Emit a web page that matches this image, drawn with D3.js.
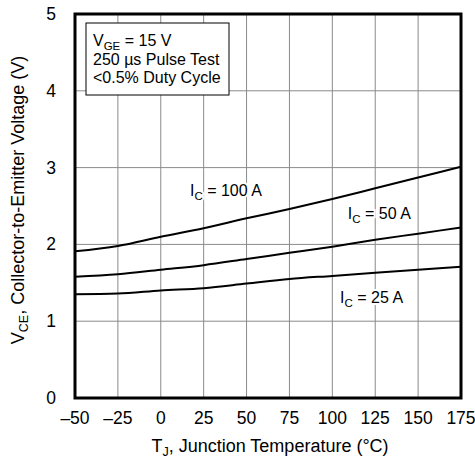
<!DOCTYPE html>
<html>
<head>
<meta charset="utf-8">
<style>
  body { margin: 0; background: #fff; }
  svg text { font-family: "Liberation Sans", Arial, sans-serif; fill: #000; }
</style>
</head>
<body>
<svg id="chart"></svg>
<script src="https://cdn.jsdelivr.net/npm/d3@7/dist/d3.min.js"></script>
<script>
// temperatures (°C) where values were read
const temps = [-50, -25, 0, 25, 50, 75, 100, 125, 150, 175];
const ic100 = [1.91, 1.98, 2.10, 2.21, 2.34, 2.46, 2.59, 2.73, 2.87, 3.01];
const ic50 = [1.58, 1.61, 1.67, 1.73, 1.81, 1.89, 1.97, 2.06, 2.14, 2.22];
const ic25 = [1.35, 1.36, 1.40, 1.43, 1.49, 1.55, 1.59, 1.63, 1.67, 1.71];
const xTicks = [-50, -25, 0, 25, 50, 75, 100, 125, 150, 175];
const yTicks = [0, 1, 2, 3, 4, 5];

const W = 475, H = 463;
const m = { left: 75, right: 14, top: 14, bottom: 65 };

let svg = d3.select("#chart").attr("width", W).attr("height", H);

let x = d3.scaleLinear().domain([-50, 175]).range([m.left, W - m.right]);
let y = d3.scaleLinear().domain([0, 5]).range([H - m.bottom, m.top]);

// grid
let grid = svg.append("g").attr("stroke", "#8a8a8a").attr("stroke-width", 1);
grid.selectAll("line.v").data(xTicks).enter().append("line")
    .attr("x1", d => x(d)).attr("x2", d => x(d))
    .attr("y1", y(0)).attr("y2", y(5));
grid.selectAll("line.h").data(yTicks).enter().append("line")
    .attr("x1", x(-50)).attr("x2", x(175))
    .attr("y1", d => y(d)).attr("y2", d => y(d));

// curves
let line = d3.line().x((d, i) => x(temps[i])).y(d => y(d)).curve(d3.curveMonotoneX);
[ic100, ic50, ic25].forEach(s => {
    svg.append("path").attr("d", line(s))
        .attr("fill", "none").attr("stroke", "#000").attr("stroke-width", 2);
});

// curve labels
function icLabel(t, v, amps) {
    let tx = svg.append("text")
        .attr("x", x(t)).attr("y", y(v))
        .attr("font-size", 16)
        .attr("stroke", "#fff").attr("stroke-width", 4)
        .attr("paint-order", "stroke");
    tx.append("tspan").text("I");
    tx.append("tspan").attr("font-size", 11.5).attr("dy", 4).text("C");
    tx.append("tspan").attr("dy", -4).text(" = " + amps + " A");
}
icLabel(17, 2.63, 100);
icLabel(109, 2.33, 50);
icLabel(104.5, 1.24, 25);

// axes labels
svg.append("g").selectAll("text").data(xTicks).enter().append("text")
    .attr("x", d => x(d)).attr("y", 424)
    .attr("text-anchor", "middle").attr("font-size", 17.5)
    .text(d => d < 0 ? "\u2013" + Math.abs(d) : d);
svg.append("g").selectAll("text").data(yTicks).enter().append("text")
    .attr("x", 56).attr("y", d => y(d) + 6)
    .attr("text-anchor", "end").attr("font-size", 17.5)
    .text(d => d);

let xt = svg.append("text").attr("x", x(62.5) + 2).attr("y", 452)
    .attr("text-anchor", "middle").attr("font-size", 18);
xt.append("tspan").text("T");
xt.append("tspan").attr("font-size", 12.5).attr("dy", 4).text("J");
xt.append("tspan").attr("dy", -4).text(", Junction Temperature (\u00b0C)");

let yt = svg.append("text")
    .attr("transform", "translate(24," + ((y(0) + y(5)) / 2 - 6) + ") rotate(-90)")
    .attr("text-anchor", "middle").attr("font-size", 18);
yt.append("tspan").text("V");
yt.append("tspan").attr("font-size", 12.5).attr("dy", 4).text("CE");
yt.append("tspan").attr("dy", -4).text(", Collector-to-Emitter Voltage (V)");

// conditions box
let box = svg.append("g");
box.append("rect").attr("x", 86).attr("y", 23).attr("width", 143).attr("height", 72)
    .attr("fill", "#fff").attr("stroke", "#000").attr("stroke-width", 1);
let l1 = box.append("text").attr("x", 93).attr("y", 46).attr("font-size", 16);
l1.append("tspan").text("V");
l1.append("tspan").attr("font-size", 11.5).attr("dy", 4).text("GE");
l1.append("tspan").attr("dy", -4).text(" = 15 V");
box.append("text").attr("x", 93).attr("y", 65).attr("font-size", 16).text("250 \u00b5s Pulse Test");
box.append("text").attr("x", 93).attr("y", 83).attr("font-size", 16).text("<0.5% Duty Cycle");

// frame
svg.append("rect").attr("x", x(-50)).attr("y", y(5))
    .attr("width", x(175) - x(-50)).attr("height", y(0) - y(5))
    .attr("fill", "none").attr("stroke", "#000").attr("stroke-width", 3);
</script>
</body>
</html>
